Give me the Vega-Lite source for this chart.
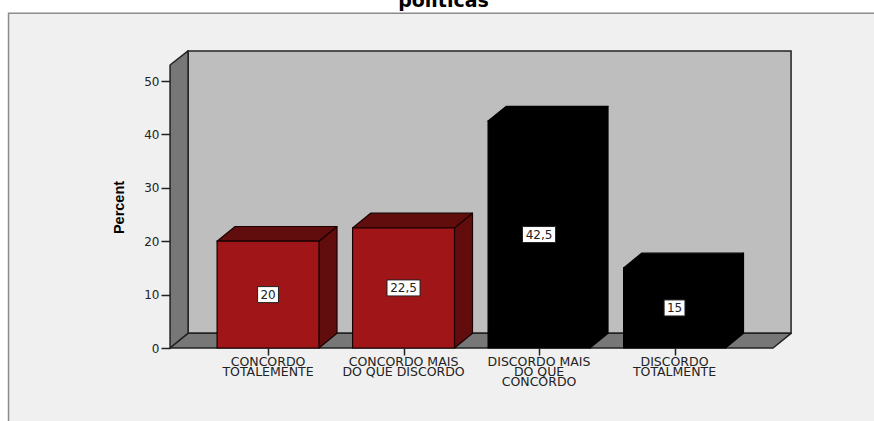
{
"$schema":"https://vega.github.io/schema/vega-lite/v6.json",
"width":874,"height":421,"padding":0,"autosize":{"type":"none"},
"background":"#ffffff",
"config":{"view":{"stroke":null},"axis":{"grid":false}},
"data":{"values":[
{"category":"CONCORDO\nTOTALEMENTE","percent":20,"side":"Concordo"},
{"category":"CONCORDO MAIS\nDO QUE DISCORDO","percent":22.5,"side":"Concordo"},
{"category":"DISCORDO MAIS\nDO QUE\nCONCORDO","percent":42.5,"side":"Discordo"},
{"category":"DISCORDO\nTOTALMENTE","percent":15,"side":"Discordo"}
]},
"transform":[
{"window":[{"op":"row_number","as":"rowNo"}]},
{"calculate":"datum.rowNo-1","as":"pos"},
{"calculate":"replace(toString(datum.percent),'.',',')","as":"label"}
],
"resolve":{"scale":{"fill":"independent"}},
"layer":[
{"data":{"values":[{"panel":"frame"}]},"transform":[],
 "mark":{"type":"rect","fill":"#f0f0f0","stroke":"#8c8c8c","strokeWidth":1.5},
 "encoding":{
  "x":{"datum":-1.915,"type":"quantitative","scale":{"domain":[-1.978,4.472],"nice":false,"zero":false},"axis":{"zindex":1,"values":[0,1,2,3],"orient":"bottom","offset":-73,"domain":false,"labels":false,"title":null,"tickSize":7,"tickColor":"#222222","tickWidth":1.5}},
  "x2":{"datum":4.6},
  "y":{"datum":62.7,"type":"quantitative","scale":{"domain":[-13.67,65.17],"nice":false,"zero":false},"axis":{"zindex":1,"values":[0,10,20,30,40,50],"orient":"left","offset":-170,"domain":false,"title":"Percent","titleFont":"Liberation Sans","titleFontWeight":"bold","titleFontSize":14.5,"titleColor":"#000000","titleX":-51,"titleY":207,"titleAngle":-90,"titleAlign":"center","titleBaseline":"middle","labelFont":"DejaVu Sans","labelFontSize":12,"labelColor":"#222222","labelPadding":2,"tickSize":9,"tickColor":"#222222","tickWidth":1.5}},
  "y2":{"datum":-14}
 }},
{"data":{"values":[{"panel":"back wall"}]},"transform":[],
 "mark":{"type":"rect","fill":"#bebebe","stroke":"#222222","strokeWidth":1.5},
 "encoding":{"x":{"datum":-0.59,"type":"quantitative"},"x2":{"datum":3.86},"y":{"datum":55.6,"type":"quantitative"},"y2":{"datum":2.75}}},
{"data":{"values":[{"t":0},{"t":1}]},
 "transform":[{"calculate":"-0.723+datum.t*0.133","as":"x"},{"calculate":"datum.t*2.75","as":"y0"},{"calculate":"53+datum.t*2.65","as":"y1"}],
 "mark":{"type":"area","fill":"#777777","stroke":"#222222","strokeWidth":1.5,"strokeJoin":"round","orient":"vertical"},
 "encoding":{"x":{"field":"x","type":"quantitative"},"y":{"field":"y0","type":"quantitative","stack":null},"y2":{"field":"y1"}}},
{"data":{"values":[{"t":0},{"t":1}]},
 "transform":[{"calculate":"datum.t*2.75","as":"y"},{"calculate":"-0.723+datum.t*0.133","as":"x0"},{"calculate":"3.727+datum.t*0.133","as":"x1"}],
 "mark":{"type":"area","fill":"#777777","stroke":"#222222","strokeWidth":1.5,"strokeJoin":"round","orient":"horizontal"},
 "encoding":{"y":{"field":"y","type":"quantitative"},"x":{"field":"x0","type":"quantitative","stack":null},"x2":{"field":"x1"}}},
{"transform":[{"calculate":"[0,1]","as":"t"},{"flatten":["t"]},
  {"calculate":"datum.pos+0.376+datum.t*0.133","as":"x"},{"calculate":"datum.t*2.75","as":"y0"},{"calculate":"datum.percent+datum.t*2.75","as":"y1"}],
 "mark":{"type":"area","strokeWidth":1.2,"strokeJoin":"round","orient":"vertical"},
 "encoding":{"x":{"field":"x","type":"quantitative"},"y":{"field":"y0","type":"quantitative","stack":null},"y2":{"field":"y1"},"detail":{"field":"category"},
  "stroke":{"field":"side","type":"nominal","scale":{"domain":["Concordo","Discordo"],"range":["#1a0000","#000000"]},"legend":null},
  "fill":{"field":"side","type":"nominal","scale":{"domain":["Concordo","Discordo"],"range":["#620d0d","#000000"]},"legend":null}}},
{"transform":[{"calculate":"[0,1]","as":"t"},{"flatten":["t"]},
  {"calculate":"datum.percent+datum.t*2.75","as":"y"},{"calculate":"datum.pos-0.376+datum.t*0.133","as":"x0"},{"calculate":"datum.pos+0.376+datum.t*0.133","as":"x1"}],
 "mark":{"type":"area","strokeWidth":1.2,"strokeJoin":"round","orient":"horizontal"},
 "encoding":{"y":{"field":"y","type":"quantitative"},"x":{"field":"x0","type":"quantitative","stack":null},"x2":{"field":"x1"},"detail":{"field":"category"},
  "stroke":{"field":"side","type":"nominal","scale":{"domain":["Concordo","Discordo"],"range":["#1a0000","#000000"]},"legend":null},
  "fill":{"field":"side","type":"nominal","scale":{"domain":["Concordo","Discordo"],"range":["#620d0d","#000000"]},"legend":null}}},
{"transform":[{"calculate":"datum.pos-0.376","as":"x0"},{"calculate":"datum.pos+0.376","as":"x1"}],
 "mark":{"type":"rect","strokeWidth":1.2},
 "encoding":{"x":{"field":"x0","type":"quantitative"},"x2":{"field":"x1"},"y":{"field":"percent","type":"quantitative"},"y2":{"datum":0},
  "stroke":{"field":"side","type":"nominal","scale":{"domain":["Concordo","Discordo"],"range":["#1a0000","#000000"]},"legend":null},
  "fill":{"field":"side","type":"nominal","scale":{"domain":["Concordo","Discordo"],"range":["#a01517","#000000"]},"legend":null}}},
{"transform":[{"calculate":"datum.percent/2","as":"mid"},{"calculate":"0.032+length(datum.label)*0.0225","as":"half"},{"calculate":"datum.pos-datum.half","as":"x0"},{"calculate":"datum.pos+datum.half","as":"x1"},{"calculate":"datum.mid-1.5","as":"y0"},{"calculate":"datum.mid+1.5","as":"y1"}],
 "mark":{"type":"rect","fill":"#ffffff","stroke":"#222222","strokeWidth":1},
 "encoding":{"x":{"field":"x0","type":"quantitative"},"x2":{"field":"x1"},"y":{"field":"y0","type":"quantitative"},"y2":{"field":"y1"}}},
{"transform":[{"calculate":"datum.percent/2","as":"mid"}],
 "mark":{"type":"text","font":"DejaVu Sans","fontSize":12,"fill":"#222222","align":"center","baseline":"middle"},
 "encoding":{"x":{"field":"pos","type":"quantitative"},"y":{"field":"mid","type":"quantitative"},"text":{"field":"label"}}},
{"mark":{"type":"text","font":"DejaVu Sans","fontSize":12.5,"lineHeight":10,"fill":"#222222","align":"center","baseline":"top","lineBreak":"\n","dy":8},
 "encoding":{"x":{"field":"pos","type":"quantitative"},"y":{"datum":0,"type":"quantitative"},"text":{"field":"category"}}},
{"data":{"values":[{"heading":"políticas"}]},"transform":[],
 "mark":{"type":"text","font":"DejaVu Sans","fontWeight":"bold","fontSize":19,"fill":"#000000","align":"center","baseline":"alphabetic"},
 "encoding":{"x":{"datum":1.295,"type":"quantitative"},"y":{"datum":63.86,"type":"quantitative"},"text":{"field":"heading"}}}
]
}
